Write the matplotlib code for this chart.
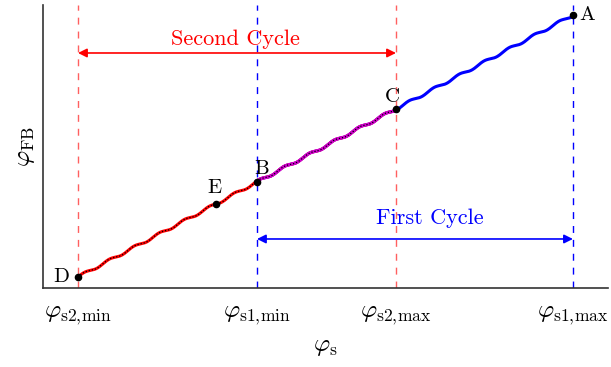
import numpy as np
import matplotlib.pyplot as plt

plt.rcParams['font.family'] = 'serif'
plt.rcParams['font.serif'] = ['cmr10']
plt.rcParams['mathtext.fontset'] = 'cm'
plt.rcParams['axes.unicode_minus'] = False

# ______ key positions (phase of s, phase of FB) ______
tick_pos = [0.0, 1.79, 3.18, 4.95]
tick_labels = [r'$\varphi_{\rm s2,\!min}$', r'$\varphi_{\rm s1,\!min}$',
               r'$\varphi_{\rm s2,\!max}$', r'$\varphi_{\rm s1,\!max}$']

pt_names = ['D', 'E', 'B', 'C', 'A']
pt_x = [0.0, 1.38, 1.79, 3.18, 4.95]
pt_y = [0.11, 0.84, 1.06, 1.79, 2.73]

# ripple on the trajectory (period, amplitude)
ripple_T = 0.25
ripple_a = 0.013


def trajectory(x0, x1):
    x = np.linspace(x0, x1, 600)
    y = np.interp(x, pt_x, pt_y) + ripple_a * np.sin(2 * np.pi * (x - pt_x[0]) / ripple_T)
    return x, y


fig = plt.figure(figsize=(6.11, 3.67), dpi=100)
ax = fig.add_axes([0.0704, 0.2153, 0.9246, 0.7711])
ax.set_xlim(-0.35, 5.30)
ax.set_ylim(0, 2.83)

# dashed cycle limits
for xv, c in zip(tick_pos, ['#ff6060', 'blue', '#ff6060', 'blue']):
    ax.axvline(xv, color=c, ls=(0, (5, 5)), lw=1.0, zorder=1)

# second cycle: D -> C (red), first cycle: B -> A (blue), overlap magenta
x2, y2 = trajectory(tick_pos[0], tick_pos[2])
x1, y1 = trajectory(tick_pos[1], tick_pos[3])
xo, yo = trajectory(tick_pos[1], tick_pos[2])
ax.plot(x1, y1, color='blue', lw=2.2, zorder=2)
ax.plot(x2, y2, color='red', lw=2.2, zorder=3)
ax.plot(xo, yo, color='#d000d0', lw=2.4, zorder=4)
ax.plot(x2, y2, color='black', lw=0.9, ls=(0, (1, 1.5)), zorder=5)

ax.scatter(pt_x, pt_y, s=20, color='black', zorder=6)
offsets = {'D': (-0.17, 0.0), 'E': (-0.02, 0.16), 'B': (0.05, 0.13),
           'C': (-0.04, 0.12), 'A': (0.14, 0.0)}
for n, x, y in zip(pt_names, pt_x, pt_y):
    dx, dy = offsets[n]
    ax.text(x + dx, y + dy, n, fontsize=15, ha='center', va='center', zorder=7)

# cycle arrows
ax.annotate('', xy=(tick_pos[2], 2.35), xytext=(tick_pos[0], 2.35),
            arrowprops=dict(arrowstyle='<|-|>', color='red', lw=1.2,
                            mutation_scale=13, shrinkA=0, shrinkB=0))
ax.text((tick_pos[0] + tick_pos[2]) / 2 - 0.02, 2.49, 'Second Cycle', color='red',
        fontsize=16, ha='center', va='center')
ax.annotate('', xy=(tick_pos[3], 0.49), xytext=(tick_pos[1], 0.49),
            arrowprops=dict(arrowstyle='<|-|>', color='blue', lw=1.2,
                            mutation_scale=13, shrinkA=0, shrinkB=0))
ax.text(3.52, 0.70, 'First Cycle', color='blue', fontsize=16, ha='center', va='center')

ax.set_xticks(tick_pos)
ax.set_xticklabels(tick_labels, fontsize=18)
ax.set_yticks([])
ax.tick_params(axis='x', length=0, pad=12)
ax.set_xlabel(r'$\varphi_{\rm s}$', fontsize=18, labelpad=6)
ax.set_ylabel(r'$\varphi_{\rm FB}$', fontsize=18, labelpad=4)

for s in ['top', 'right']:
    ax.spines[s].set_visible(False)
for s in ['left', 'bottom']:
    ax.spines[s].set_color('#333333')
    ax.spines[s].set_linewidth(1.2)

fig.savefig('out.png', dpi=100)
